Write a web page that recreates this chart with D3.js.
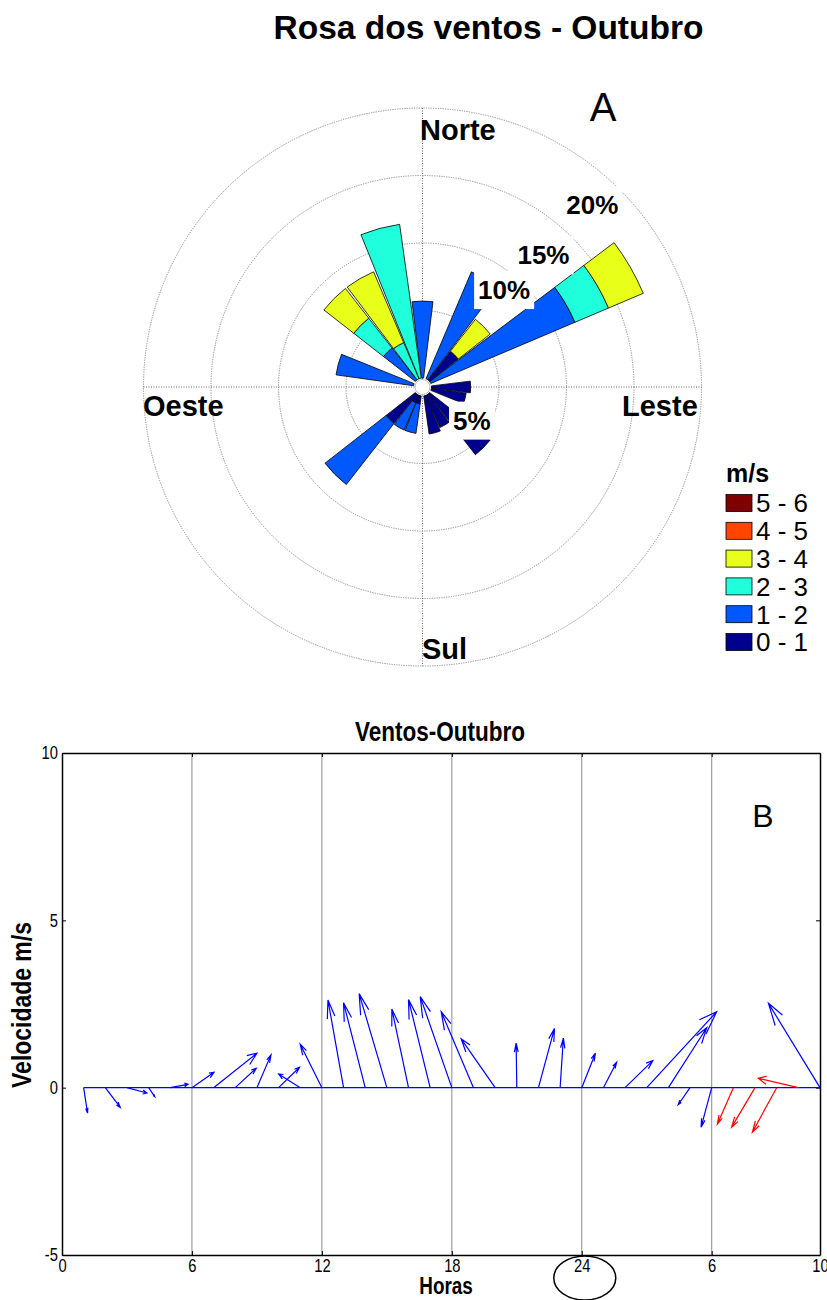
<!DOCTYPE html>
<html>
<head>
<meta charset="utf-8">
<script src="https://cdn.jsdelivr.net/npm/d3@7"></script>
<style>
  body { margin: 0; background: #fff; }
  svg { display: block; }
</style>
</head>
<body>
<svg id="chart" width="827" height="1300"></svg>
<script>
// ---------- Wind rose data (percent of observations per direction and speed class) ----------
const directions = [0, 15, 30, 45, 60, 75, 90, 105, 120, 135, 150, 165, 180, 195, 210, 225, 240, 255, 270, 285, 300, 315, 330, 345];
const speedClasses = ["0 - 1", "1 - 2", "2 - 3", "3 - 4", "4 - 5", "5 - 6"];
const classColors = ["#00008f", "#0058ff", "#20ffdc", "#e8ff1a", "#ff4500", "#800000"];
const pct0to1 = [0, 0, 0, 2.7, 0, 0, 2.9, 2.6, 0, 5.7, 2.6, 2.85, 0, 0.6, 0.6, 2.75, 0, 0, 0, 0, 0, 0, 0, 0];
const pct1to2 = [5.7, 0, 8.6, 0, 11.6, 0, 0, 0, 0, 0, 0, 0, 0, 2.2, 2.2, 5.75, 0, 0, 0, 5.8, 0, 3.0, 0, 0];
const pct2to3 = [0, 0, 0, 0, 2.7, 0, 0, 0, 0, 0, 0, 0, 0, 0, 0, 0, 0, 0, 0, 0, 0, 2.8, 2.9, 11.5];
const pct3to4 = [0, 0, 0, 3.0, 2.8, 0, 0, 0, 0, 0, 0, 0, 0, 0, 0, 0, 0, 0, 0, 0, 0, 2.8, 5.7, 0];
const pct4to5 = [0, 0, 0, 0, 0, 0, 0, 0, 0, 0, 0, 0, 0, 0, 0, 0, 0, 0, 0, 0, 0, 0, 0, 0];
const pct5to6 = [0, 0, 0, 0, 0, 0, 0, 0, 0, 0, 0, 0, 0, 0, 0, 0, 0, 0, 0, 0, 0, 0, 0, 0];
const ringValues = [5, 10, 15, 20];
const ringLabels = ["5%", "10%", "15%", "20%"];
const compassLabels = ["Norte", "Leste", "Sul", "Oeste"];

// ---------- Hourly wind vectors (u east, v north, m/s) ----------
const hours = [1, 2, 3, 4, 5, 6, 7, 8, 9, 10, 11, 12, 13, 14, 15, 16, 17, 18, 19, 20, 21, 22, 23, 24, 25, 26, 27, 28, 29, 30, 31, 32, 33, 34, 35];
const windU = [0.18, 0.69, 0.92, 0.28, 0.82, 1.02, 2.0, 0.97, 0.65, 0.97, -1.0, -1.0, -0.72, -1.0, -1.28, -0.77, -1.0, -1.46, -1.49, -1.57, -0.03, 0.74, 0.15, 0.63, 0.61, 1.28, 3.23, 1.77, -0.55, -0.49, -0.74, -1.08, -1.12, -1.85, -2.38];
const windV = [-0.76, -0.59, -0.16, -0.27, 0.1, 0.46, 1.03, 0.58, 0.98, 0.61, 0.41, 1.3, 2.62, 2.54, 2.81, 2.35, 2.63, 2.72, 2.27, 1.46, 1.33, 1.77, 1.48, 1.03, 0.76, 0.81, 2.27, 1.79, -0.51, -1.18, -1.09, -1.18, -1.33, 0.28, 2.52];
const redHours = [31, 32, 33, 34];
const xTickValues = [0, 6, 12, 18, 24, 30, 35];
const xTickLabels = ["0", "6", "12", "18", "24", "6", "10"];
const yTickValues = [-5, 0, 5, 10];
const yTickLabels = ["-5", "0", "5", "10"];

const svg = d3.select("#chart");
const SANS = "'Liberation Sans', Arial, Helvetica, sans-serif";
const CONDENSE = "scale(0.82,1)";

// ================= Panel A: wind rose =================
svg.append("text")
  .attr("x", 488.5).attr("y", 39)
  .attr("text-anchor", "middle")
  .style("font-family", SANS).style("font-weight", "bold").style("font-size", "33.5px")
  .text("Rosa dos ventos - Outubro");

svg.append("text")
  .attr("x", 603).attr("y", 121)
  .attr("text-anchor", "middle")
  .style("font-family", SANS).style("font-size", "40px")
  .text("A");

const cx = 422.5, cy = 387;
const r = d3.scaleLinear().domain([0, 20]).range([9, 279]);
const rose = svg.append("g").attr("transform", `translate(${cx},${cy})`);

// rings
rose.selectAll("circle.ring").data(ringValues).join("circle")
  .attr("class", "ring")
  .attr("r", d => r(d))
  .attr("fill", "none")
  .attr("stroke", "#8a8a8a").attr("stroke-width", 1)
  .attr("stroke-dasharray", "1.2,1.2");

// cross lines
const rMax = r(20);
rose.append("line").attr("x1", -rMax).attr("x2", rMax).attr("y1", 0).attr("y2", 0)
  .attr("stroke", "#444").attr("stroke-width", 0.8).attr("stroke-dasharray", "1,1.5");
rose.append("line").attr("y1", -rMax).attr("y2", rMax).attr("x1", 0).attr("x2", 0)
  .attr("stroke", "#444").attr("stroke-width", 0.8).attr("stroke-dasharray", "1,1.5");

// stacked sectors
const classSeries = [pct0to1, pct1to2, pct2to3, pct3to4, pct4to5, pct5to6];
const halfWidth = 7 * Math.PI / 180;
const arc = d3.arc();
const segments = [];
directions.forEach((dir, i) => {
  let acc = 0;
  classSeries.forEach((series, k) => {
    const v = series[i];
    if (v > 0) {
      segments.push({ dir, k, from: acc, to: acc + v });
      acc += v;
    }
  });
});
rose.selectAll("path.sector").data(segments).join("path")
  .attr("class", "sector")
  .attr("d", s => arc({
    innerRadius: r(s.from),
    outerRadius: r(s.to),
    startAngle: s.dir * Math.PI / 180 - halfWidth,
    endAngle: s.dir * Math.PI / 180 + halfWidth
  }))
  .attr("fill", s => classColors[s.k])
  .attr("stroke", "#000").attr("stroke-width", 0.8).attr("stroke-linejoin", "round");

rose.append("circle").attr("r", r(0) - 1.5).attr("fill", "#fff")
  .attr("stroke", "#777").attr("stroke-width", 0.5);

// ring labels with white backgrounds
const ringLabelPos = [
  { a: 124, d: -17 }, { a: 40, d: -17 }, { a: 42.5, d: -32.5 }, { a: 43, d: -30 }
];
ringValues.forEach((p, i) => {
  const ang = ringLabelPos[i].a * Math.PI / 180;
  const rr = r(p) + ringLabelPos[i].d;
  const px = rr * Math.sin(ang), py = -rr * Math.cos(ang);
  const g = rose.append("g").attr("transform", `translate(${px},${py})`);
  const t = g.append("text")
    .attr("text-anchor", "middle").attr("dy", "0.36em")
    .style("font-family", SANS).style("font-weight", "bold").style("font-size", "26px")
    .text(ringLabels[i]);
  const bb = t.node().getBBox();
  g.insert("rect", "text")
    .attr("x", bb.x - 4).attr("y", bb.y - 4)
    .attr("width", bb.width + 8).attr("height", bb.height + 8)
    .attr("fill", "#fff");
});

// compass labels
const compassPos = [[420, 140], [622, 416], [422, 659], [143, 416]];
compassLabels.forEach((lab, i) => {
  svg.append("text")
    .attr("x", compassPos[i][0]).attr("y", compassPos[i][1])
    .style("font-family", SANS).style("font-weight", "bold").style("font-size", "29px")
    .text(lab);
});

// legend
const legend = svg.append("g").attr("transform", "translate(726,0)");
legend.append("text").attr("x", 0).attr("y", 482)
  .style("font-family", SANS).style("font-weight", "bold").style("font-size", "25px")
  .text("m/s");
const legendOrder = d3.range(speedClasses.length).reverse();
legendOrder.forEach((k, row) => {
  const yc = 503 + row * 27.8;
  legend.append("rect").attr("x", 0).attr("y", yc - 8.5).attr("width", 26).attr("height", 17)
    .attr("fill", classColors[k]).attr("stroke", "#000").attr("stroke-width", 0.8);
  legend.append("text").attr("x", 30).attr("y", yc).attr("dy", "0.36em")
    .style("font-family", SANS).style("font-size", "26px")
    .text(speedClasses[k]);
});

// ================= Panel B: hourly wind vectors =================
const x = d3.scaleLinear().domain([0, 35]).range([62, 820]);
const y = d3.scaleLinear().domain([-5, 10]).range([1255, 753]);

svg.append("g").attr("transform", "translate(440,741)")
  .append("text").attr("transform", CONDENSE)
  .attr("text-anchor", "middle")
  .style("font-family", SANS).style("font-weight", "bold").style("font-size", "27.5px")
  .text("Ventos-Outubro");

// vertical grid
svg.append("g").selectAll("line").data(xTickValues.slice(1, -1)).join("line")
  .attr("x1", d => x(d)).attr("x2", d => x(d))
  .attr("y1", y(10)).attr("y2", y(-5))
  .attr("stroke", "#8c8c8c").attr("stroke-width", 1);

// axes with inward ticks
const xAxisB = d3.axisBottom(x).tickValues(xTickValues).tickFormat((d, i) => xTickLabels[i]).tickSizeInner(-4).tickSizeOuter(0).tickPadding(4);
const xAxisT = d3.axisTop(x).tickValues(xTickValues).tickFormat("").tickSizeInner(-4).tickSizeOuter(0);
const yAxisL = d3.axisLeft(y).tickValues(yTickValues).tickFormat((d, i) => yTickLabels[i]).tickSizeInner(-4).tickSizeOuter(0).tickPadding(5);
const yAxisR = d3.axisRight(y).tickValues(yTickValues).tickFormat("").tickSizeInner(-4).tickSizeOuter(0);

function styleAxis(g) {
  g.selectAll("path").attr("stroke", "#000").attr("stroke-width", 1.5);
  g.selectAll("line").attr("stroke", "#000");
  g.selectAll("text").style("font-family", SANS).style("font-size", "18px").attr("fill", "#000")
    .attr("transform", CONDENSE);
}
svg.append("g").attr("transform", `translate(0,${y(-5)})`).call(xAxisB).call(styleAxis);
svg.append("g").attr("transform", `translate(0,${y(10)})`).call(xAxisT).call(styleAxis);
svg.append("g").attr("transform", `translate(${x(0)},0)`).call(yAxisL).call(styleAxis);
svg.append("g").attr("transform", `translate(${x(35)},0)`).call(yAxisR).call(styleAxis);

// baseline
svg.append("line")
  .attr("x1", x(hours[0])).attr("x2", x(hours[hours.length - 1]))
  .attr("y1", y(0)).attr("y2", y(0))
  .attr("stroke", "#0000ff").attr("stroke-width", 1.2);

// feather arrows: shaft plus two barbs, built in data units
const headLen = 0.2, headWidth = 0.33;
const vectors = hours.map((h, i) => ({ h, u: windU[i], v: windV[i], red: redHours.includes(h) }));
const arrowPath = d => {
  const tx = d.h + d.u, ty = d.v;
  const b1x = tx - headLen * (d.u + headWidth * d.v), b1y = ty - headLen * (d.v - headWidth * d.u);
  const b2x = tx - headLen * (d.u - headWidth * d.v), b2y = ty - headLen * (d.v + headWidth * d.u);
  return `M${x(d.h)},${y(0)}L${x(tx)},${y(ty)}` +
         `M${x(b1x)},${y(b1y)}L${x(tx)},${y(ty)}L${x(b2x)},${y(b2y)}`;
};
svg.append("g").selectAll("path").data(vectors).join("path")
  .attr("d", arrowPath)
  .attr("fill", "none")
  .attr("stroke", d => d.red ? "#ff0000" : "#0000ff")
  .attr("stroke-width", 1.2);

svg.append("text").attr("x", 763).attr("y", 827)
  .attr("text-anchor", "middle")
  .style("font-family", SANS).style("font-size", "32px")
  .text("B");

svg.append("g").attr("transform", "translate(446,1294)")
  .append("text").attr("transform", CONDENSE)
  .attr("text-anchor", "middle")
  .style("font-family", SANS).style("font-weight", "bold").style("font-size", "23px")
  .text("Horas");

svg.append("g").attr("transform", "translate(31,1005) rotate(-90)")
  .append("text").attr("transform", CONDENSE)
  .attr("text-anchor", "middle")
  .style("font-family", SANS).style("font-weight", "bold").style("font-size", "28px")
  .text("Velocidade m/s");

// ellipse highlighting the 24 h tick
svg.append("ellipse").attr("cx", x(24) + 3).attr("cy", 1278).attr("rx", 31).attr("ry", 22)
  .attr("fill", "none").attr("stroke", "#000").attr("stroke-width", 1.5);
</script>
</body>
</html>
